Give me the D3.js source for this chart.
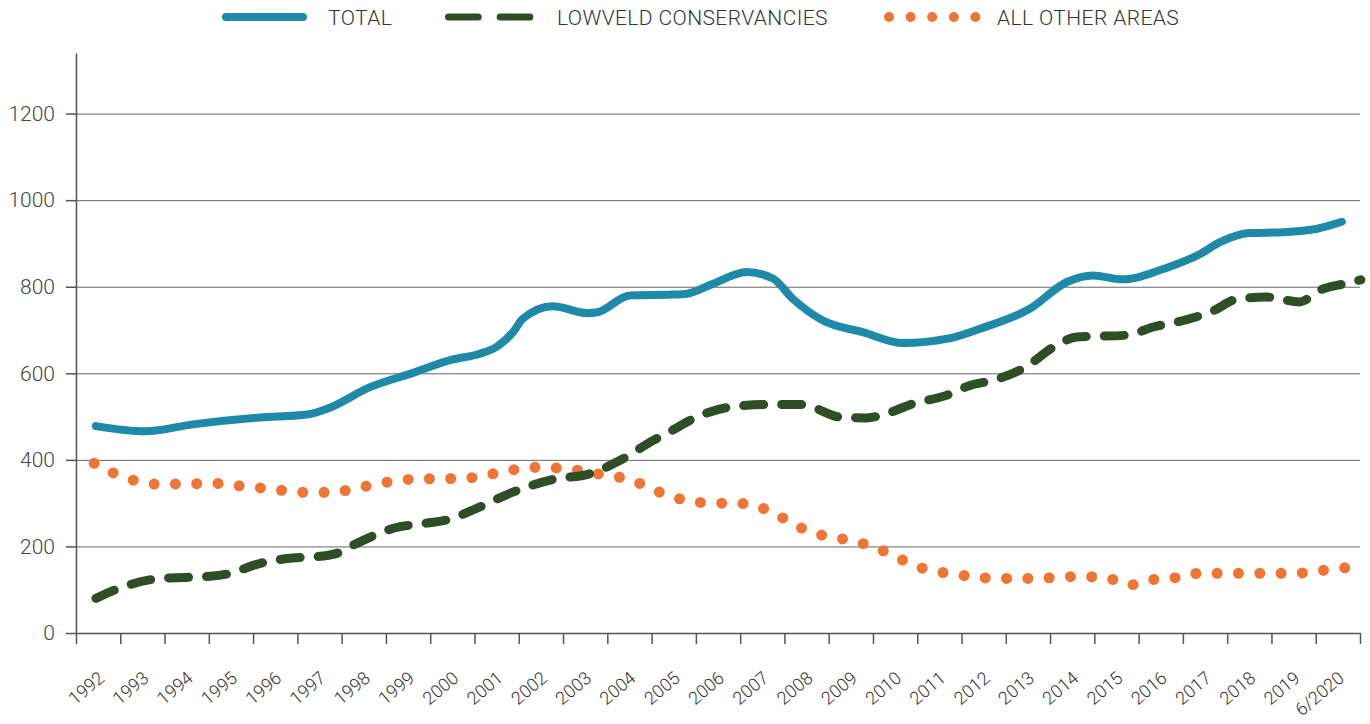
<!DOCTYPE html>
<html>
<head>
  <meta charset="utf-8">
  <script src="https://d3js.org/d3.v7.min.js"></script>
  <style>
    body { margin: 0; background: #fff; }
    text { font-family: Roboto, sans-serif; font-weight: 300; fill: #333; }
    .axis path, .axis line { stroke: #555; stroke-width: 1.5; }
    .grid line { stroke: #666; stroke-width: 1; }
    .grid path { display: none; }
  </style>
</head>
<body>
<script>
  // category labels on the x axis
  var yearLabels = ['1992', '1993', '1994', '1995', '1996', '1997', '1998', '1999', '2000',
    '2001', '2002', '2003', '2004', '2005', '2006', '2007', '2008', '2009', '2010', '2011',
    '2012', '2013', '2014', '2015', '2016', '2017', '2018', '2019', '6/2020'];
  var yTicks = [0, 200, 400, 600, 800, 1000, 1200];

  var seriesNames = ['TOTAL', 'LOWVELD CONSERVANCIES', 'ALL OTHER AREAS'];

  // TOTAL
  var totalYears = [1991.95, 1993.06, 1994.14, 1995.66, 1996.72, 1997.17, 1998.14, 1999.11,
    2000.01, 2000.62, 2001.01, 2001.37, 2001.59, 2002.27, 2003.04, 2003.27, 2004.01, 2004.98,
    2005.30, 2005.89, 2006.65, 2007.24, 2007.69, 2008.37, 2009.27, 2010.18, 2011.19, 2011.92,
    2013.04, 2013.88, 2014.47, 2015.12, 2016.14, 2016.88, 2017.34, 2018.01, 2018.76, 2019.53,
    2020.09];
  var totalValues = [478, 466, 482, 498, 505, 518, 568, 601,
    632, 645, 662, 695, 726, 755, 739, 741, 780, 782,
    784, 807, 834, 819, 772, 722, 695, 670, 680, 703,
    749, 811, 826, 817, 844, 875, 903, 924, 926, 934,
    950];

  // LOWVELD CONSERVANCIES
  var lowveldYears = [1991.95, 1992.57, 1993.40, 1994.53, 1994.90, 1995.66, 1996.26, 1997.08,
    1997.39, 1997.84, 1998.67, 1999.42, 1999.87, 2000.55, 2001.38, 2002.28, 2003.11, 2003.79,
    2004.54, 2004.84, 2005.52, 2006.27, 2007.17, 2007.85, 2008.15, 2008.75, 2009.36, 2009.81,
    2010.41, 2011.16, 2011.69, 2012.22, 2012.89, 2013.65, 2014.10, 2015.23, 2015.83, 2016.51,
    2017.18, 2017.71, 2018.39, 2019.14, 2019.59, 2020.20, 2020.52];
  var lowveldValues = [80, 107, 126, 131, 136, 161, 172, 178,
    184, 207, 242, 254, 261, 288, 326, 355, 368, 399,
    445, 461, 499, 522, 528, 528, 521, 499, 497, 507,
    530, 549, 572, 584, 611, 665, 684, 688, 707, 722,
    744, 771, 776, 765, 792, 808, 816];

  // ALL OTHER AREAS
  var otherYears = [1991.91, 1992.36, 1992.87, 1993.31, 1994.18, 1994.61, 1995.09, 1995.59,
    1996.11, 1996.64, 1997.17, 1997.69, 1998.18, 1998.69, 1999.21, 2000.19, 2000.65, 2001.06,
    2001.49, 2001.93, 2002.38, 2002.83, 2003.27, 2003.66, 2004.05, 2004.44, 2004.84, 2005.25,
    2005.69, 2006.56, 2006.99, 2007.42, 2007.79, 2008.20, 2008.62, 2009.07, 2009.54, 2010.02,
    2010.45, 2010.90, 2011.41, 2011.92, 2012.41, 2012.93, 2013.41, 2013.90, 2014.38, 2014.87,
    2015.30, 2015.80, 2016.34, 2016.88, 2019.05, 2019.61, 2020.18];
  var otherValues = [392, 369, 351, 344, 345, 346, 341, 336,
    330, 325, 325, 331, 342, 351, 356, 357, 362, 371,
    379, 383, 381, 376, 368, 362, 353, 336, 319, 307,
    301, 299, 289, 268, 247, 230, 221, 212, 198, 176,
    155, 143, 135, 128, 126, 126, 127, 130, 130, 125,
    111, 123, 128, 138, 138, 144, 151];

  var svg = d3.select('body').append('svg')
    .attr('width', 1370)
    .attr('height', 724);

  var plotLeft = 76, plotRight = 1360, plotTop = 53, plotBottom = 633;

  var x = d3.scaleLinear().domain([1991.5, 2020.5]).range([plotLeft, plotRight]);
  var y = d3.scaleLinear().domain([0, 1340]).range([plotBottom, plotTop]);

  // gridlines
  svg.append('g')
    .attr('class', 'grid')
    .attr('transform', 'translate(' + plotLeft + ',0)')
    .call(d3.axisLeft(y).tickValues(yTicks.slice(1)).tickSize(-(plotRight - plotLeft)).tickFormat(''));

  // y axis
  var yAxis = svg.append('g')
    .attr('class', 'axis')
    .attr('transform', 'translate(' + plotLeft + ',0)')
    .call(d3.axisLeft(y).tickValues(yTicks).tickSize(10).tickPadding(11).tickSizeOuter(0)
      .tickFormat(d3.format('d')));
  yAxis.selectAll('text')
    .style('font-size', '21px')
    .style('fill', '#444');

  // x axis: ticks on category boundaries
  var bounds = d3.range(yearLabels.length + 1).map(function(i) { return 1991.5 + i; });
  svg.append('g')
    .attr('class', 'axis')
    .attr('transform', 'translate(0,' + plotBottom + ')')
    .call(d3.axisBottom(x).tickValues(bounds).tickSize(11).tickSizeOuter(0).tickFormat(''));

  // x labels at category centres
  var centres = yearLabels.map(function(d, i) { return 1992 + i; });
  var xLab = svg.append('g')
    .attr('transform', 'translate(0,' + plotBottom + ')')
    .call(d3.axisBottom(x).tickValues(centres).tickSize(0)
      .tickFormat(function(d, i) { return yearLabels[i]; }));
  xLab.select('.domain').remove();
  xLab.selectAll('text')
    .attr('x', 0).attr('y', 0).attr('dy', 0)
    .attr('transform', 'translate(7,47) rotate(-40)')
    .style('text-anchor', 'end')
    .style('font-size', '18px')
    .style('fill', '#333');

  var line = d3.line()
    .x(function(d) { return x(d[0]); })
    .y(function(d) { return y(d[1]); })
    .curve(d3.curveMonotoneX);

  var totalColor = '#1f8aa8', lowveldColor = '#2e4e26', otherColor = '#f07433';

  svg.append('path')
    .datum(d3.zip(otherYears, otherValues))
    .attr('d', line)
    .attr('fill', 'none')
    .attr('stroke', otherColor)
    .attr('stroke-width', 11)
    .attr('stroke-linecap', 'round')
    .attr('stroke-dasharray', '0 21.3');

  svg.append('path')
    .datum(d3.zip(lowveldYears, lowveldValues))
    .attr('d', line)
    .attr('fill', 'none')
    .attr('stroke', lowveldColor)
    .attr('stroke-width', 9)
    .attr('stroke-linecap', 'round')
    .attr('stroke-dasharray', '20 18');

  svg.append('path')
    .datum(d3.zip(totalYears, totalValues))
    .attr('d', line)
    .attr('fill', 'none')
    .attr('stroke', totalColor)
    .attr('stroke-width', 8)
    .attr('stroke-linecap', 'round');

  // legend
  var legend = svg.append('g').attr('class', 'legend');
  var legendItems = [
    { x1: 226, x2: 303, tx: 328, color: totalColor, width: 8, dash: null },
    { x1: 448.5, x2: 530, tx: 557, color: lowveldColor, width: 7, dash: '29.7 22' },
    { x1: 889, x2: 976, tx: 997, color: otherColor, width: 10, dash: '0 21.6' }
  ];
  legendItems.forEach(function(it, i) {
    legend.append('line')
      .attr('x1', it.x1).attr('x2', it.x2)
      .attr('y1', 17).attr('y2', 17)
      .attr('stroke', it.color)
      .attr('stroke-width', it.width)
      .attr('stroke-linecap', 'round')
      .attr('stroke-dasharray', it.dash);
    legend.append('text')
      .attr('x', it.tx).attr('y', 25)
      .style('font-size', '21px')
      .style('letter-spacing', '0.4px')
      .text(seriesNames[i]);
  });
</script>
</body>
</html>
